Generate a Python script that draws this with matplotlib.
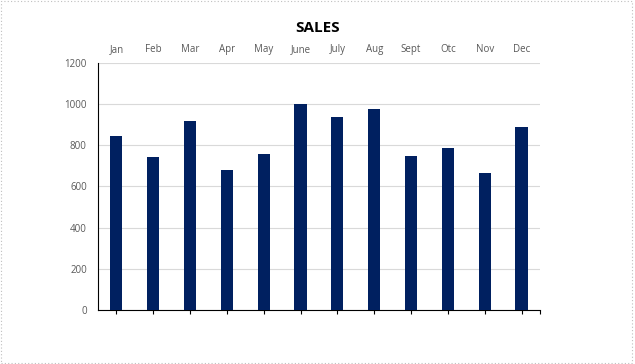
import matplotlib.pyplot as plt
import matplotlib.patches as patches

months = ['Jan', 'Feb', 'Mar', 'Apr', 'May', 'June', 'July', 'Aug', 'Sept', 'Otc', 'Nov', 'Dec']
sales = [845, 743, 918, 680, 758, 1000, 938, 978, 748, 787, 665, 889]
y_ticks = [0, 200, 400, 600, 800, 1000, 1200]

plt.rcParams['font.family'] = ['Open Sans', 'DejaVu Sans']

fig = plt.figure(figsize=(6.35, 3.64), dpi=100, facecolor='white')
ax = fig.add_axes([0.1543, 0.1484, 0.696, 0.6786])

x = range(len(months))
ax.bar(x, sales, width=0.33, color='#002060', zorder=3)

ax.set_xlim(-0.5, len(months) - 0.5)
ax.set_ylim(0, 1200)
ax.set_yticks(y_ticks)
ax.set_yticklabels([str(v) for v in y_ticks], fontsize=7, color='#595959')
ax.grid(axis='y', color='#d9d9d9', lw=0.8, zorder=0)

ax.set_xticks(list(x))
ax.set_xticklabels(months, fontsize=7, color='#595959')
ax.tick_params(axis='x', which='both', top=False, labeltop=True, labelbottom=False,
               bottom=True, length=3, width=0.8, pad=2.5)
ax.tick_params(axis='y', length=0, pad=8)
# tick at the right end of the x axis
ax.plot([len(months) - 0.5], [0], marker=3, ms=3, mew=0.8, color='black', clip_on=False)

for side in ['top', 'right']:
    ax.spines[side].set_visible(False)
ax.spines['left'].set_color('black')
ax.spines['bottom'].set_color('black')

fig.text(0.5, 0.923, 'SALES', ha='center', va='center', fontsize=11, fontweight='bold')

# dotted outer border
fig.patches.append(patches.Rectangle((0.002, 0.003), 0.994, 0.994, transform=fig.transFigure,
                                     fill=False, ec='#bfbfbf', ls=(0, (1, 2)), lw=0.8))

fig.savefig('out.png', dpi=100, facecolor='white')
